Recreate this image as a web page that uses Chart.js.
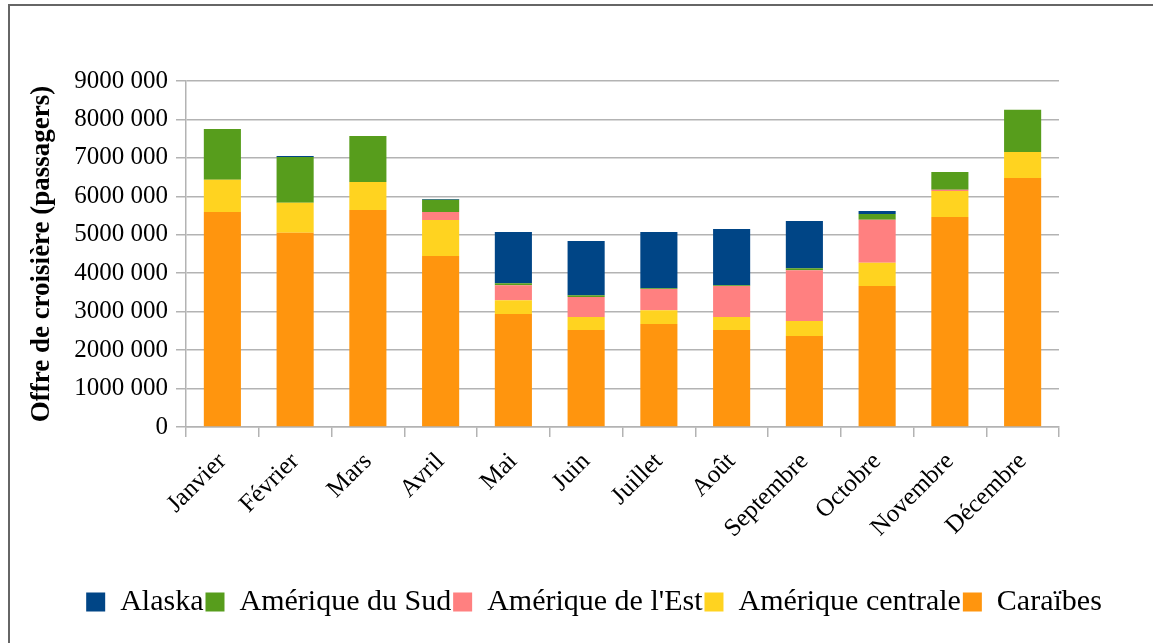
<!DOCTYPE html>
<html>
<head>
<meta charset="utf-8">
<script src="https://cdn.jsdelivr.net/npm/chart.js@4"></script>
<style>
  html, body { margin: 0; padding: 0; background: #fff; }
  #wrap { position: relative; width: 1153px; height: 643px; overflow: hidden; }
  #frame { position: absolute; left: 8px; top: 4px; width: 1200px; height: 700px; border: 2px solid #666; box-sizing: border-box; }
  canvas { position: absolute; left: 0; top: 0; }
</style>
</head>
<body>
<div id="wrap">
  <div id="frame"></div>
  <canvas id="c" width="1153" height="643"></canvas>
</div>
<script>
const months = ["Janvier", "Février", "Mars", "Avril", "Mai", "Juin", "Juillet", "Août", "Septembre", "Octobre", "Novembre", "Décembre"];
const caraibes = [5590000, 5050000, 5645000, 4450000, 2940000, 2520000, 2680000, 2520000, 2370000, 3670000, 5460000, 6480000];
const ameriqueCentrale = [840000, 780000, 725000, 935000, 360000, 340000, 360000, 340000, 390000, 600000, 680000, 670000];
const ameriqueEst = [0, 0, 0, 205000, 390000, 520000, 550000, 810000, 1320000, 1120000, 30000, 0];
const ameriqueSud = [1320000, 1190000, 1200000, 320000, 50000, 50000, 20000, 20000, 50000, 150000, 460000, 1100000];
const alaska = [0, 30000, 0, 20000, 1330000, 1410000, 1460000, 1460000, 1230000, 80000, 0, 0];
const yTickLabels = ["0", "1000 000", "2000 000", "3000 000", "4000 000", "5000 000", "6000 000", "7000 000", "8000 000", "9000 000"];

const FONT = "'Liberation Serif', 'Times New Roman', serif";
const GRID = "#b3b3b3";

const legendShift = {
  id: "legendShift",
  afterLayout(chart) {
    const lg = chart.legend;
    if (!lg) return;
    const target = 594;
    const cur = (lg.left + lg.right) / 2;
    const d = target - cur;
    lg.left += d; lg.right += d;
    if (lg.legendHitBoxes) lg.legendHitBoxes.forEach(b => { b.left += d; });
  }
};

new Chart(document.getElementById("c"), {
  type: "bar",
  data: {
    labels: months,
    datasets: [
      { label: "Caraïbes", data: caraibes, backgroundColor: "#ff950e" },
      { label: "Amérique centrale", data: ameriqueCentrale, backgroundColor: "#ffd320" },
      { label: "Amérique de l'Est", data: ameriqueEst, backgroundColor: "#ff8080" },
      { label: "Amérique du Sud", data: ameriqueSud, backgroundColor: "#579d1c" },
      { label: "Alaska", data: alaska, backgroundColor: "#004586" }
    ]
  },
  plugins: [legendShift],
  options: {
    responsive: false,
    animation: false,
    datasets: { bar: { categoryPercentage: 1, barPercentage: 0.51, borderWidth: 0 } },
    layout: { padding: { left: 22, right: 0, top: 81, bottom: 16 } },
    plugins: {
      tooltip: { enabled: false },
      legend: {
        position: "bottom",
        reverse: true,
        labels: {
          font: { family: FONT, size: 30 },
          color: "#000",
          boxWidth: 19,
          boxHeight: 19,
          padding: 2
        }
      }
    },
    scales: {
      x: {
        stacked: true,
        grid: {
          offset: true,
          drawOnChartArea: true,
          color: (ctx) => (ctx.index === months.length ? GRID : "rgba(0,0,0,0)"),
          tickColor: GRID,
          tickLength: 10,
          lineWidth: 1.5
        },
        border: { display: true, color: GRID, width: 1.5 },
        ticks: {
          font: { family: FONT, size: 25 },
          color: "#000",
          minRotation: 45,
          maxRotation: 45,
          padding: 10,
          autoSkip: false
        },
        afterFit: (scale) => { scale.height = 158; }
      },
      y: {
        stacked: true,
        min: 0,
        max: 9000000,
        grid: { color: GRID, tickColor: GRID, tickLength: 10, lineWidth: 1.5 },
        border: { display: true, color: GRID, width: 1.5 },
        ticks: {
          stepSize: 1000000,
          font: { family: FONT, size: 25 },
          color: "#000",
          padding: 8,
          callback: (v, i) => yTickLabels[i]
        },
        title: {
          display: true,
          text: "Offre de croisière (passagers)",
          font: { family: FONT, size: 27, weight: "bold" },
          color: "#000",
          padding: { top: 4, bottom: 0 }
        },
        afterFit: (scale) => { scale.width = 164; }
      },
      ySpace: {
        type: "linear",
        position: "right",
        display: true,
        grid: { display: false, drawTicks: false },
        border: { display: false },
        ticks: { display: false },
        afterFit: (scale) => { scale.width = 94; }
      }
    }
  }
});
</script>
</body>
</html>
